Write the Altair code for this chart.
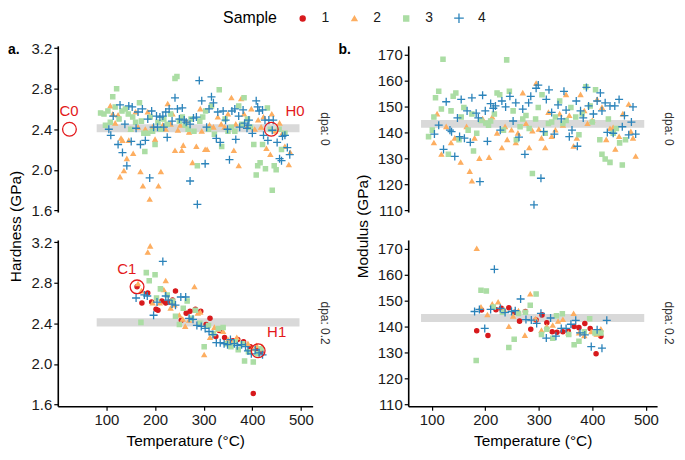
import altair as alt
import pandas as pd

SAMPLES = ["1", "2", "3", "4"]
PALETTE = ["#d7191c", "#fdae61", "#abdda4", "#2b83ba"]
SHAPES = ["circle", "triangle-up", "square", "M-1.9,0H1.9M0,-1.9V1.9"]
ANN_RED = "#e3191c"

TEMP_TICKS = [100, 200, 300, 400, 500]
HARD_TICKS = [1.6, 2.0, 2.4, 2.8, 3.2]
MOD_TICKS = [110, 120, 130, 140, 150, 160, 170]

BAND_TEMP = [80, 497]
HARD_BAND = [2.37, 2.45]
MOD_BAND = [141.8, 144.8]

# ---------------- Hardness, dpa 0 ----------------
hard0_s2 = [(108, 2.63), (113, 2.55), (118, 2.46), (124, 2.54), (128, 1.93), (130, 2.31), (133, 2.29),
            (136, 1.99), (142, 2.11), (146, 2.29), (150, 2.40), (155, 2.16), (160, 2.57), (165, 2.42),
            (170, 1.98), (175, 1.84), (180, 2.40), (185, 2.57), (189, 1.71), (195, 2.42), (200, 2.30),
            (207, 1.84), (212, 1.98), (216, 2.44), (222, 2.40), (226, 2.65), (232, 2.45), (236, 2.55),
            (241, 2.19), (247, 2.39), (252, 2.44), (255, 2.19), (258, 2.24), (264, 2.48), (270, 2.37),
            (277, 2.07), (285, 2.23), (293, 2.60), (296, 2.38), (303, 2.20), (307, 2.20), (312, 2.44),
            (320, 2.42), (329, 2.52), (336, 2.45), (343, 2.42), (350, 2.55), (357, 2.71), (362, 2.19),
            (366, 2.45), (372, 2.04), (377, 2.70), (383, 2.55), (390, 2.43), (398, 2.60), (405, 2.40),
            (412, 2.49), (418, 2.42), (423, 2.52), (429, 2.21), (437, 2.15), (440, 2.55), (447, 2.38),
            (456, 2.46), (462, 2.36), (467, 2.23), (475, 2.05), (478, 2.17)]
hard0_s3 = [(88, 2.56), (95, 2.55), (98, 2.44), (103, 2.58), (108, 2.47), (113, 2.72), (118, 2.62),
            (121, 2.80), (126, 2.50), (132, 2.58), (139, 2.60), (145, 2.55), (150, 2.40), (154, 2.52),
            (160, 2.47), (168, 2.66), (172, 2.48), (177, 2.36), (179, 2.18), (185, 2.36), (190, 2.52),
            (195, 2.38), (200, 2.25), (206, 2.47), (212, 2.40), (218, 2.50), (225, 2.45), (232, 2.55),
            (241, 2.90), (245, 2.92), (250, 2.48), (256, 2.52), (262, 2.44), (268, 2.40), (274, 2.50),
            (280, 2.38), (287, 2.04), (292, 2.48), (298, 2.52), (304, 2.58), (310, 2.40), (316, 2.63),
            (322, 2.35), (332, 2.79), (337, 2.23), (344, 2.50), (350, 2.38), (357, 2.42), (364, 2.38),
            (372, 2.63), (378, 2.45), (383, 2.71), (390, 2.50), (396, 2.42), (403, 2.25), (408, 1.95),
            (411, 2.04), (416, 2.07), (421, 2.25), (427, 2.01), (431, 2.61), (437, 2.40), (441, 1.80),
            (445, 2.04), (449, 2.00), (455, 2.40), (460, 2.20), (467, 2.36)]
hard0_s4 = [(105, 2.40), (109, 2.34), (114, 2.53), (124, 2.25), (128, 2.64), (133, 2.17), (138, 2.45),
            (142, 2.04), (146, 2.63), (151, 2.28), (153, 2.62), (161, 2.41), (165, 2.57), (170, 2.25),
            (174, 2.60), (180, 2.29), (185, 2.50), (189, 1.92), (193, 2.58), (197, 2.42), (203, 2.53),
            (205, 2.42), (210, 2.52), (216, 2.53), (218, 2.42), (222, 2.57), (225, 2.32), (229, 2.60),
            (235, 2.48), (241, 2.71), (246, 2.60), (250, 2.50), (256, 2.61), (260, 2.49), (264, 2.47),
            (272, 2.45), (272, 1.89), (279, 2.51), (285, 2.52), (287, 1.66), (291, 2.88), (296, 2.68),
            (303, 2.06), (306, 2.42), (311, 2.60), (316, 2.72), (320, 2.66), (326, 2.31), (329, 2.57),
            (334, 2.27), (340, 2.58), (345, 2.49), (349, 2.40), (353, 2.10), (358, 2.58), (364, 2.60),
            (366, 2.30), (372, 2.53), (374, 2.42), (381, 2.59), (384, 2.46), (389, 2.41), (391, 2.44),
            (393, 2.49), (400, 2.36), (408, 2.68), (411, 2.62), (414, 2.58), (421, 2.59), (423, 2.34),
            (426, 2.49), (432, 2.29), (434, 2.49), (441, 2.39), (443, 2.49), (451, 2.27), (456, 2.11),
            (460, 2.09), (462, 2.33), (467, 2.34), (472, 2.22), (477, 2.15)]

# ---------------- Hardness, dpa 0.2 ----------------
hard2_s1 = [(163, 2.76), (173, 2.60), (185, 2.70), (193, 2.61), (202, 2.54), (206, 2.53), (214, 2.62),
            (222, 2.60), (230, 2.61), (236, 2.63), (242, 2.72), (254, 2.43), (264, 2.50), (272, 2.52),
            (283, 2.54), (294, 2.52), (305, 2.39), (313, 2.45), (325, 2.27), (332, 2.33), (343, 2.26),
            (353, 2.22), (360, 2.23), (370, 2.24), (382, 2.22), (396, 2.17), (402, 1.71), (410, 2.14),
            (418, 2.12)]
hard2_s2 = [(165, 2.79), (172, 2.72), (185, 3.10), (190, 3.16), (195, 2.60), (210, 2.60), (218, 2.73),
            (222, 2.82), (232, 2.55), (240, 2.58), (250, 2.48), (257, 2.44), (262, 2.37), (270, 2.43),
            (281, 2.76), (288, 2.50), (293, 2.51), (301, 2.09), (306, 2.37), (313, 2.26), (322, 2.36),
            (330, 2.34), (340, 2.32), (350, 2.24), (360, 2.22), (368, 2.26), (380, 2.20), (391, 2.20),
            (400, 2.15), (409, 2.18), (420, 2.17)]
hard2_s3 = [(171, 2.41), (182, 2.90), (188, 2.82), (200, 2.88), (203, 2.65), (211, 2.74), (225, 2.68),
            (236, 2.62), (242, 2.47), (250, 2.39), (258, 2.55), (266, 2.62), (275, 2.45), (283, 2.53),
            (292, 2.40), (301, 2.17), (310, 2.38), (320, 2.30), (330, 2.35), (340, 2.36), (348, 2.20),
            (356, 2.17), (365, 2.22), (371, 2.14), (380, 2.20), (384, 2.03), (392, 2.12), (402, 2.02),
            (410, 2.10), (418, 2.15)]
hard2_s4 = [(161, 2.65), (178, 2.68), (184, 2.67), (197, 2.48), (204, 2.61), (216, 3.01), (222, 2.67),
            (227, 2.63), (235, 2.59), (242, 2.58), (253, 2.66), (263, 2.66), (270, 2.45), (278, 2.44),
            (286, 2.38), (295, 2.37), (303, 2.35), (311, 2.32), (319, 2.29), (326, 2.21), (334, 2.21),
            (342, 2.20), (349, 2.19), (355, 2.24), (363, 2.20), (369, 2.18), (378, 2.19), (386, 2.17),
            (391, 2.13), (398, 2.10), (406, 2.14), (414, 2.11), (421, 2.09)]

# ---------------- Modulus, dpa 0 ----------------
mod0_s2 = [(104, 136.0), (110, 147.1), (118, 131.6), (127, 142.2), (136, 136.0), (143, 137.8),
           (154, 128.5), (165, 142.2), (171, 125.0), (175, 121.3), (180, 137.8), (189, 130.0),
           (195, 145.2), (207, 130.4), (213, 145.9), (222, 139.7), (231, 134.1), (237, 142.2),
           (241, 137.2), (249, 140.9), (257, 136.0), (261, 139.7), (270, 155.2), (276, 143.4),
           (282, 134.1), (288, 140.6), (295, 158.9), (300, 141.2), (305, 137.8), (312, 134.1),
           (318, 147.7), (324, 138.4), (331, 140.9), (339, 147.1), (345, 142.8), (351, 154.5),
           (357, 146.5), (365, 134.7), (371, 137.8), (378, 154.5), (385, 148.3), (391, 143.4),
           (400, 144.6), (409, 152.7), (418, 149.6), (426, 137.2), (433, 141.5), (439, 141.9),
           (443, 133.5), (450, 138.4), (457, 147.1), (468, 150.8), (472, 140.3), (476, 137.8),
           (481, 130.8)]
mod0_s3 = [(94, 138.4), (101, 140.9), (104, 145.9), (107, 153.3), (113, 155.8), (118, 149.0),
           (121, 168.1), (131, 131.6), (136, 148.3), (140, 153.9), (145, 155.2), (151, 137.2),
           (155, 145.9), (160, 149.6), (168, 140.9), (175, 147.1), (178, 132.9), (184, 139.7),
           (192, 144.6), (201, 143.6), (206, 142.8), (210, 144.4), (217, 147.1), (222, 155.2),
           (227, 154.5), (234, 140.9), (240, 167.9), (245, 155.8), (252, 148.3), (258, 137.2),
           (265, 142.2), (270, 145.2), (276, 146.5), (282, 141.5), (288, 124.2), (294, 145.2),
           (299, 149.6), (306, 154.5), (312, 139.7), (318, 143.4), (324, 144.0), (331, 145.9),
           (339, 152.1), (345, 143.4), (351, 144.6), (360, 149.6), (369, 145.9), (375, 139.1),
           (381, 147.1), (388, 157.6), (396, 150.2), (400, 144.0), (406, 156.4), (414, 137.2),
           (418, 131.6), (424, 129.8), (430, 145.2), (433, 128.5), (439, 139.7), (445, 141.5),
           (451, 136.0), (456, 127.5), (462, 137.2)]
mod0_s4 = [(105, 139.4), (113, 142.8), (122, 133.5), (127, 151.8), (134, 140.9), (137, 140.3),
           (143, 130.8), (148, 145.6), (152, 138.4), (155, 152.7), (161, 137.8), (166, 148.3),
           (172, 136.2), (175, 153.3), (183, 147.4), (187, 145.6), (190, 121.1), (195, 154.3),
           (200, 148.3), (204, 136.6), (210, 151.1), (215, 149.3), (219, 150.2), (228, 140.9),
           (231, 152.1), (238, 149.8), (246, 153.9), (252, 144.4), (257, 151.4), (263, 138.2),
           (270, 149.0), (274, 131.6), (281, 151.4), (285, 153.9), (291, 112.2), (295, 157.0),
           (299, 158.2), (304, 122.4), (309, 140.3), (314, 152.7), (319, 156.4), (324, 147.7),
           (329, 139.4), (336, 150.6), (342, 145.2), (347, 155.8), (351, 148.6), (357, 138.4),
           (362, 140.9), (370, 152.1), (372, 134.7), (378, 148.3), (383, 145.6), (389, 157.3),
           (393, 150.2), (402, 147.1), (409, 152.1), (415, 155.2), (418, 148.3), (424, 151.4),
           (428, 140.0), (433, 150.2), (439, 139.7), (442, 150.2), (450, 152.7), (456, 142.2),
           (460, 146.5), (468, 139.1), (473, 144.0), (476, 149.8), (481, 139.4)]

# ---------------- Modulus, dpa 0.2 ----------------
mod2_s1 = [(184, 138.4), (193, 146.4), (205, 136.6), (220, 146.5), (230, 147.0), (244, 147.2),
           (255, 145.5), (264, 142.1), (275, 145.8), (285, 139.0), (295, 142.5), (306, 144.5),
           (315, 141.5), (325, 138.0), (334, 137.8), (345, 138.0), (355, 138.3), (366, 140.0),
           (375, 139.6), (386, 141.2), (396, 139.3), (407, 129.6), (416, 136.3)]
mod2_s2 = [(184, 170.0), (192, 147.5), (204, 144.5), (213, 148.6), (224, 149.4), (235, 146.5),
           (244, 140.0), (252, 144.0), (262, 146.0), (274, 136.6), (284, 152.5), (294, 143.0),
           (305, 138.5), (315, 140.0), (326, 140.5), (336, 142.0), (345, 142.7), (355, 137.5),
           (365, 145.0), (375, 137.5), (385, 136.5), (398, 138.0), (408, 137.0), (416, 139.0)]
mod2_s3 = [(183, 127.0), (192, 154.0), (202, 153.7), (215, 147.5), (232, 145.5), (244, 132.0),
           (254, 135.1), (262, 145.0), (275, 145.5), (284, 148.2), (295, 152.5), (305, 137.0),
           (315, 139.0), (326, 135.5), (333, 144.2), (344, 144.9), (356, 137.0), (366, 133.0),
           (375, 134.4), (385, 138.0), (395, 143.0), (405, 137.5), (416, 137.5)]
mod2_s4 = [(180, 145.8), (189, 146.6), (199, 139.3), (210, 146.6), (217, 162.0), (228, 147.0),
           (237, 145.4), (249, 145.8), (256, 146.1), (266, 150.6), (276, 142.7), (286, 142.5),
           (296, 141.2), (304, 145.1), (314, 135.6), (322, 143.3), (332, 136.3), (342, 139.3),
           (351, 139.3), (360, 140.9), (369, 142.4), (377, 137.6), (386, 136.8), (398, 132.3),
           (409, 138.8), (418, 131.7), (427, 142.4)]

# ---------------- annotations ----------------
ann_top_circles = [(24, 2.40), (439, 2.40)]
ann_top_labels = [("C0", 23, 2.58), ("H0", 488, 2.58)]
ann_bot_circles = [(163, 2.76), (412, 2.13)]
ann_bot_labels = [("C1", 142, 2.94), ("H1", 450, 2.31)]

# ---------------- layout ----------------
W_L, W_R, H = 256, 250, 167
ROW_GAP, COL_GAP = 28, 96
X_L = [0, 524]
X_R = [56, 521]
Y_H = [1.584, 3.222]
Y_M = [109.4, 173.3]


def frame(series):
    rows = []
    for sample, pts in series.items():
        for t, v in pts:
            rows.append({"T": t, "V": v, "Sample": sample})
    return pd.DataFrame(rows)


LEGEND = alt.Legend(orient="none", legendX=166, legendY=-35, direction="horizontal",
                    titleOrient="left", title="Sample")


def panel(series, xdom, ydom, yticks, yfmt, band, w, bottom, strip,
          ytitle=None, tag=None, circles=None, labels=None):
    xs = alt.Scale(domain=xdom, nice=False, zero=False)
    ys = alt.Scale(domain=ydom, nice=False, zero=False)
    if bottom:
        xax = alt.Axis(values=TEMP_TICKS, format="d", title="Temperature (°C)")
    else:
        xax = None
    if ytitle:
        yax = alt.Axis(values=yticks, format=yfmt, title=ytitle[0], titleX=ytitle[1],
                       titleY=H + ROW_GAP / 2)
    else:
        yax = alt.Axis(values=yticks, format=yfmt, title="")

    band_df = pd.DataFrame({"x": [BAND_TEMP[0]], "x2": [BAND_TEMP[1]],
                            "y": [band[0]], "y2": [band[1]]})
    band_layer = alt.Chart(band_df).mark_rect(color="#d9d9d9").encode(
        x=alt.X("x:Q", scale=xs, axis=xax), x2="x2:Q",
        y=alt.Y("y:Q", scale=ys, axis=yax), y2="y2:Q")

    sscale_c = alt.Scale(domain=SAMPLES, range=PALETTE)
    pts = alt.Chart(frame(series)).mark_point(
        filled=True, size=18, strokeWidth=1.3, opacity=1).encode(
        x=alt.X("T:Q", scale=xs, axis=xax),
        y=alt.Y("V:Q", scale=ys, axis=yax),
        color=alt.Color("Sample:N", scale=sscale_c, legend=LEGEND),
        stroke=alt.Stroke("Sample:N", scale=sscale_c, legend=LEGEND),
        shape=alt.Shape("Sample:N", scale=alt.Scale(domain=SAMPLES, range=SHAPES), legend=LEGEND),
    )
    layers = [band_layer, pts]

    if circles:
        cdf = pd.DataFrame(circles, columns=["T", "V"])
        layers.append(alt.Chart(cdf).mark_point(
            shape="circle", filled=False, size=190, strokeWidth=1.3, color=ANN_RED, opacity=1).encode(
            x=alt.X("T:Q", scale=xs, axis=xax), y=alt.Y("V:Q", scale=ys, axis=yax)))
    if labels:
        ldf = pd.DataFrame(labels, columns=["lab", "T", "V"])
        layers.append(alt.Chart(ldf).mark_text(
            fontSize=15, color=ANN_RED, align="center", baseline="middle").encode(
            x=alt.X("T:Q", scale=xs, axis=xax), y=alt.Y("V:Q", scale=ys, axis=yax),
            text="lab:N"))

    sdf = pd.DataFrame({"s": [strip]})
    layers.append(alt.Chart(sdf).mark_text(
        angle=90, fontSize=12, color="#333333", align="center", baseline="middle").encode(
        x=alt.value(w + 12), y=alt.value(H / 2), text="s:N"))

    if tag:
        tdf = pd.DataFrame({"s": [tag[0]]})
        layers.append(alt.Chart(tdf).mark_text(
            fontSize=14, fontWeight="bold", color="black", align="left", baseline="middle").encode(
            x=alt.value(tag[1]), y=alt.value(4), text="s:N"))

    return alt.layer(*layers).properties(width=w, height=H)


tl = panel({"2": hard0_s2, "3": hard0_s3, "4": hard0_s4}, X_L, Y_H, HARD_TICKS, ".1f",
           HARD_BAND, W_L, False, "dpa: 0", ytitle=("Hardness (GPa)", -34), tag=("a.", -50),
           circles=ann_top_circles, labels=ann_top_labels)
tr = panel({"2": mod0_s2, "3": mod0_s3, "4": mod0_s4}, X_R, Y_M, MOD_TICKS, "d",
           MOD_BAND, W_R, False, "dpa: 0", ytitle=("Modulus (GPa)", -38), tag=("b.", -70))
bl = panel({"1": hard2_s1, "2": hard2_s2, "3": hard2_s3, "4": hard2_s4}, X_L, Y_H, HARD_TICKS, ".1f",
           HARD_BAND, W_L, True, "dpa: 0.2", circles=ann_bot_circles, labels=ann_bot_labels)
br = panel({"1": mod2_s1, "2": mod2_s2, "3": mod2_s3, "4": mod2_s4}, X_R, Y_M, MOD_TICKS, "d",
           MOD_BAND, W_R, True, "dpa: 0.2")

chart = alt.concat(tl, tr, bl, br, columns=2, spacing={"row": ROW_GAP, "column": COL_GAP},
                   bounds="flush").properties(
    padding={"left": 0, "top": 2, "right": 2, "bottom": 0}
).configure(font="Liberation Sans").configure_view(stroke=None).configure_axis(
    grid=False, domainColor="black", domainWidth=1.6, tickColor="black", tickWidth=1.2,
    tickSize=4, labelFontSize=15, labelColor="#1a1a1a", labelPadding=2,
    titleFontSize=15.5, titleFontWeight="normal", titleColor="black", titlePadding=6
).configure_legend(
    titleFontSize=16, titleFontWeight="normal", titleColor="black", labelFontSize=14,
    labelColor="#1a1a1a", symbolSize=26, symbolStrokeWidth=1.3, labelOffset=12,
    columnPadding=18, titlePadding=18
)

chart.save("out.html", embed_options={"renderer": "svg", "actions": False})
